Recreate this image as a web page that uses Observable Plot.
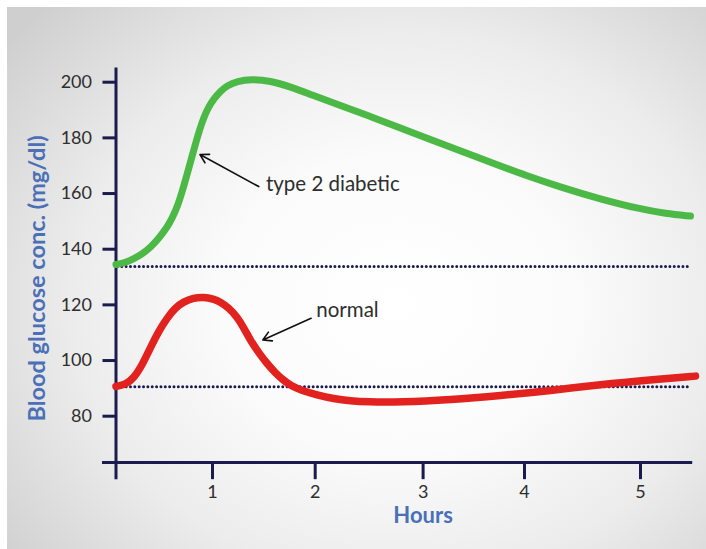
<!DOCTYPE html>
<html>
<head>
<meta charset="utf-8">
<script src="https://cdn.jsdelivr.net/npm/d3@7"></script>
<script src="https://cdn.jsdelivr.net/npm/@observablehq/plot@0.6"></script>
<style>
  html, body { margin: 0; padding: 0; background: #fff; overflow: hidden; }
  #chart svg { display: block; }
</style>
</head>
<body>
<div id="chart"></div>
<script>
// ---- data (hours, blood glucose mg/dl) ----
const diabeticHours = [0, 0.098, 0.184, 0.272, 0.358, 0.440, 0.531, 0.585, 0.634, 0.686, 0.738, 0.782, 0.824, 0.865, 0.910, 0.959, 1.013, 1.078, 1.143, 1.243, 1.370,
  1.565, 1.760, 1.955, 2.234, 2.512, 2.790, 2.994, 3.369, 3.763, 4.000, 4.310, 4.655, 5.000, 5.216, 5.431];
const diabeticGlucose = [134.5, 135.2, 136.5, 138.3, 140.7, 143.8, 147.9, 151.4, 155.1, 160.7, 167.1, 172.6, 177.9, 182.8, 187.4, 191.1, 194.0, 196.8, 198.8, 200.3, 201.1,
  200.5, 198.3, 195.6, 191.6, 187.7, 183.5, 180.5, 175.3, 169.9, 166.7, 162.3, 158.0, 154.4, 152.8, 151.9];
const normalHours = [0, 0.098, 0.181, 0.275, 0.358, 0.440, 0.534, 0.617, 0.699, 0.803, 0.907, 1.010, 1.078, 1.156, 1.241, 1.302, 1.370, 1.448, 1.533, 1.614, 1.695, 1.770,
  1.857, 2.019, 2.170, 2.327, 2.482, 2.791, 3.270, 3.763, 4.224, 4.655, 5.086, 5.474];
const normalGlucose = [90.7, 91.4, 93.5, 98.6, 104.7, 110.4, 115.5, 119.0, 121.1, 122.5, 122.8, 122.1, 121.0, 119.0, 115.6, 111.9, 107.2, 102.9, 98.8, 95.5, 92.8, 90.8,
  89.4, 87.6, 86.3, 85.5, 85.1, 85.0, 85.9, 87.4, 89.2, 91.4, 93.1, 94.4];
const baselines = [133.8, 90.6];
const xTicks = [1, 2, 3, 4, 5];
const yTicks = [80, 100, 120, 140, 160, 180, 200];
const xTitle = "Hours";
const yTitle = "Blood glucose conc. (mg/dl)";
const labelDiabetic = "type 2 diabetic";
const labelNormal = "normal";

const diabetic = diabeticHours.map((h, i) => ({h, g: diabeticGlucose[i]}));
const normal = normalHours.map((h, i) => ({h, g: normalGlucose[i]}));

// the original's hour axis is hand-drawn with uneven spacing: piecewise-linear hour scale
const hourScale = d3.scaleLinear().domain([0, 1, 2, 3, 4, 5]).range([115.5, 212, 314.7, 422.6, 524, 640]);

const navy = "#1b1b4d";
const blue = "#4a70b8";
const textColor = "#2e2e2e";
const font = "Lato, 'Open Sans', sans-serif";

const chart = Plot.plot({
  width: 706,
  height: 549,
  marginLeft: 115.5,
  marginTop: 67.5,
  marginRight: 8,
  marginBottom: 87,
  style: {
    fontFamily: font,
    background: "radial-gradient(ellipse 72% 78% at 56% 55%, #ffffff 0%, #fbfbfb 35%, #ececec 65%, #cfcfcf 100%) 7px 7px / calc(100% - 7px) calc(100% - 7px) no-repeat, #ffffff"
  },
  x: {type: "linear", transform: hourScale, domain: [0, 706], range: [0, 706], axis: null},
  y: {domain: [80, 200], range: [415.7, 81.7]},
  marks: [
    // dotted baselines
    Plot.ruleY(baselines, {x1: 0.02, x2: 5.44, stroke: navy, strokeWidth: 3, strokeDasharray: "0 4.35", strokeLinecap: "round"}),
    // axis lines
    Plot.ruleX([0], {y1: 57.2, y2: 205.1, stroke: navy, strokeWidth: 3}),
    Plot.ruleY([63.4], {x1: -0.14, x2: 5.45, stroke: navy, strokeWidth: 3}),
    Plot.axisY({ticks: yTicks, tickSize: 13, tickPadding: 11, stroke: navy, strokeWidth: 3, fill: textColor, fontSize: 18, label: null}),
    // x ticks and labels
    Plot.ruleX(xTicks, {x: d => d, y1: 63.4, y2: 57.2, stroke: navy, strokeWidth: 3}),
    Plot.text(xTicks, {x: d => d, y: 52.6, text: d => String(d), fontSize: 18, fill: textColor}),
    // curves
    Plot.line(diabetic, {x: "h", y: "g", stroke: "#4cb946", strokeWidth: 7, curve: "basis"}),
    Plot.line(normal, {x: "h", y: "g", stroke: "#e1221f", strokeWidth: 7.5, curve: "basis"}),
    // annotations
    Plot.arrow([{x1: 1.45, y1: 162.5, x2: 0.87, y2: 174.0}], {x1: "x1", y1: "y1", x2: "x2", y2: "y2", stroke: "#111", strokeWidth: 1.6, headLength: 9}),
    Plot.arrow([{x1: 1.96, y1: 115.2, x2: 1.49, y2: 107.4}], {x1: "x1", y1: "y1", x2: "x2", y2: "y2", stroke: "#111", strokeWidth: 1.6, headLength: 9}),
    Plot.text([labelDiabetic], {x: 1.52, y: 163.4, text: d => d, textAnchor: "start", fontSize: 20.5, fill: textColor}),
    Plot.text([labelNormal], {x: 2.01, y: 118.1, text: d => d, textAnchor: "start", fontSize: 20.5, fill: textColor}),
    // axis titles
    Plot.text([xTitle], {x: 3, y: 44.0, text: d => d, fontSize: 22, fontWeight: "bold", fill: blue}),
    Plot.text([yTitle], {x: -0.81, y: 129.5, text: d => d, rotate: -90, fontSize: 23.5, fontWeight: "bold", fill: blue})
  ]
});
document.getElementById("chart").append(chart);
</script>
</body>
</html>
